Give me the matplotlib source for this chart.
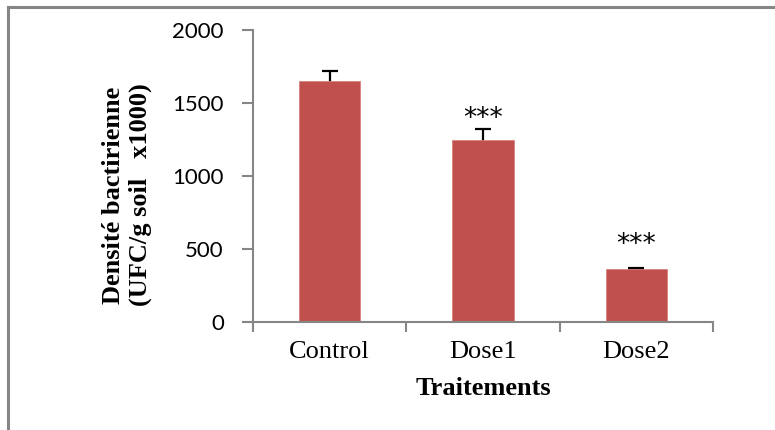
import numpy as np
import matplotlib
matplotlib.use("Agg")
import matplotlib.pyplot as plt
from matplotlib.lines import Line2D

# bacterial density per treatment (UFC/g soil x1000)
treatments = ["Control", "Dose1", "Dose2"]
density = [1648, 1247, 363]
errors = [74, 74, 5]
signif = ["", "***", "***"]

bar_color = "#C0504D"
axis_color = "#868686"
serif = "Liberation Serif"

fig = plt.figure(figsize=(7.75, 4.3), dpi=100)
ax = fig.add_axes([253 / 775, 1 - 322 / 430, 460 / 775, 292 / 430])

x = np.arange(len(treatments))
# error bars sit behind the bars so only the upper half shows
ax.errorbar(x, density, yerr=errors, fmt="none",
            ecolor="black", elinewidth=1.6, capsize=6, capthick=1.6, zorder=1)
ax.bar(x, density, width=0.4, color=bar_color, edgecolor="#D9827F", linewidth=0.6, zorder=2)

# significance stars above the treated bars
star_offsets = [0, 2, 12]
for xi, top, err, s, off in zip(x, density, errors, signif, star_offsets):
    if s:
        ax.annotate(s, (xi, top + err), xytext=(0, off), textcoords="offset points",
                    ha="center", va="baseline", fontsize=19, family="DejaVu Sans")

ax.set_xlim(-0.5, len(treatments) - 0.5)
ax.set_ylim(0, 2000)
ax.set_yticks([0, 500, 1000, 1500, 2000])
ax.set_xticks(x)
ax.set_xticklabels(treatments, family=serif, fontsize=19)
ax.set_xticks(np.arange(-0.5, len(treatments), 1.0), minor=True)
ax.tick_params(axis="x", which="major", length=0, pad=14)
ax.tick_params(axis="x", which="minor", length=7, width=1.5, color=axis_color, direction="out")
ax.tick_params(axis="y", length=8, width=1.5, color=axis_color, direction="out", pad=13,
               labelsize=16)
for lbl in ax.get_yticklabels():
    lbl.set_family("Lato")

for side in ("top", "right"):
    ax.spines[side].set_visible(False)
for side in ("left", "bottom"):
    ax.spines[side].set_color(axis_color)
    ax.spines[side].set_linewidth(1.5)

ax.set_xlabel("Traitements", family=serif, fontsize=19, fontweight="bold", labelpad=10)
fig.text(127 / 775, 1 - 195 / 430, "Densité bactirienne\n(UFC/g soil   x1000)",
         rotation=90, ha="center", va="center", multialignment="center",
         family=serif, fontsize=19, fontweight="bold", linespacing=1.15)

# chart area outline (left and top edges)
fig.add_artist(Line2D([8 / 775, 8 / 775], [0, 1 - 7 / 430], color=axis_color, linewidth=2.2))
fig.add_artist(Line2D([8 / 775, 1], [1 - 7 / 430, 1 - 7 / 430], color=axis_color, linewidth=2.2))

fig.savefig("out.png", dpi=100, facecolor="white")
